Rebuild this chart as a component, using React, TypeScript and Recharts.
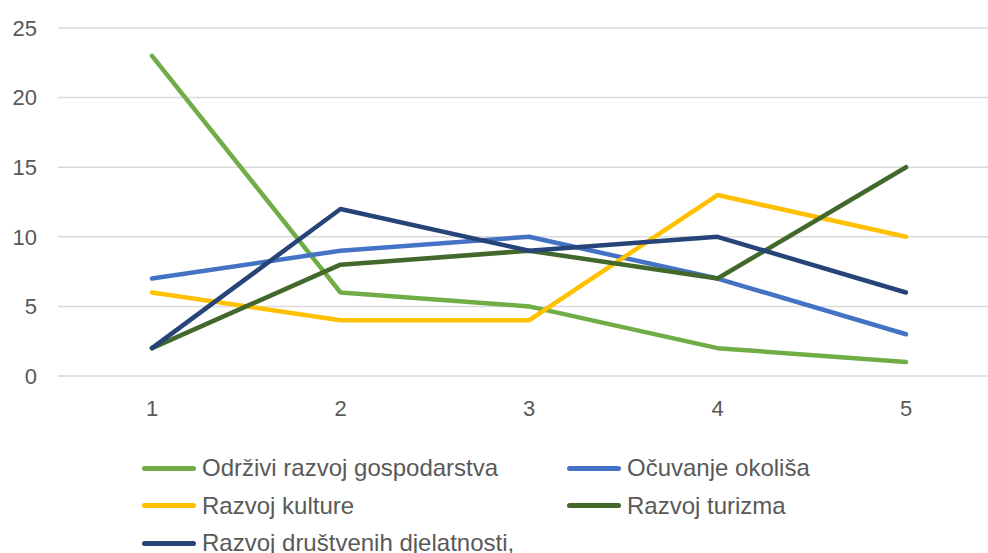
import React from 'react';
import { LineChart, Line, XAxis, YAxis, CartesianGrid } from 'recharts';

const categories = ['1', '2', '3', '4', '5'];
const gospodarstvo = [23, 6, 5, 2, 1];
const okolis = [7, 9, 10, 7, 3];
const kultura = [6, 4, 4, 13, 10];
const turizam = [2, 8, 9, 7, 15];
const drustvene = [2, 12, 9, 10, 6];
const yTicks = [0, 5, 10, 15, 20, 25];

const SERIES = [
  { key: 'gospodarstvo', name: 'Održivi razvoj gospodarstva', color: '#70AD47', values: gospodarstvo },
  { key: 'okolis', name: 'Očuvanje okoliša', color: '#4472C4', values: okolis },
  { key: 'kultura', name: 'Razvoj kulture', color: '#FFC000', values: kultura },
  { key: 'turizam', name: 'Razvoj turizma', color: '#43682B', values: turizam },
  { key: 'drustvene', name: 'Razvoj društvenih djelatnosti,', color: '#264478', values: drustvene },
];

const data = categories.map((c, i) => {
  const row: Record<string, string | number> = { cat: c };
  SERIES.forEach((s) => (row[s.key] = s.values[i]));
  return row;
});

const FONT = '"Liberation Sans", Arial, sans-serif';
const TEXT = '#595959';

export default function App() {
  return (
    <div
      style={{
        position: 'fixed',
        left: 0,
        top: 0,
        width: 988,
        height: 553,
        overflow: 'hidden',
        background: '#fff',
        fontFamily: FONT,
      }}
    >
      <LineChart
        width={1000}
        height={553}
        data={data}
        margin={{ top: 28, right: 0, left: 0, bottom: 127 }}
      >
        <CartesianGrid vertical={false} stroke="#D9D9D9" strokeWidth={1.5} />
        <XAxis
          dataKey="cat"
          axisLine={false}
          tickLine={false}
          tickMargin={18}
          height={50}
          padding={{ left: 94, right: 94 }}
          tick={{ fontSize: 22, fill: TEXT, fontFamily: FONT }}
        />
        <YAxis
          width={58}
          domain={[0, 25]}
          ticks={yTicks}
          axisLine={false}
          tickLine={false}
          tickMargin={15}
          tick={{ fontSize: 22, fill: TEXT, fontFamily: FONT }}
        />
        {SERIES.map((s) => (
          <Line
            key={s.key}
            type="linear"
            dataKey={s.key}
            name={s.name}
            stroke={s.color}
            strokeWidth={4.5}
            strokeLinecap="round"
            strokeLinejoin="round"
            dot={false}
            activeDot={false}
            isAnimationActive={false}
          />
        ))}
      </LineChart>

      {/* Legend, two columns */}
      {SERIES.map((s, i) => {
        const col = i % 2;
        const row = Math.floor(i / 2);
        const left = col === 0 ? 142 : 567;
        const top = 468 + row * 37.5;
        return (
          <div
            key={s.key}
            style={{
              position: 'absolute',
              left,
              top: top - 15,
              height: 30,
              display: 'flex',
              alignItems: 'center',
              whiteSpace: 'nowrap',
            }}
          >
            <div
              style={{
                width: 54,
                height: 5,
                borderRadius: 3,
                background: s.color,
                marginRight: 6,
              }}
            />
            <span style={{ fontSize: 24, color: TEXT }}>{s.name}</span>
          </div>
        );
      })}
    </div>
  );
}
